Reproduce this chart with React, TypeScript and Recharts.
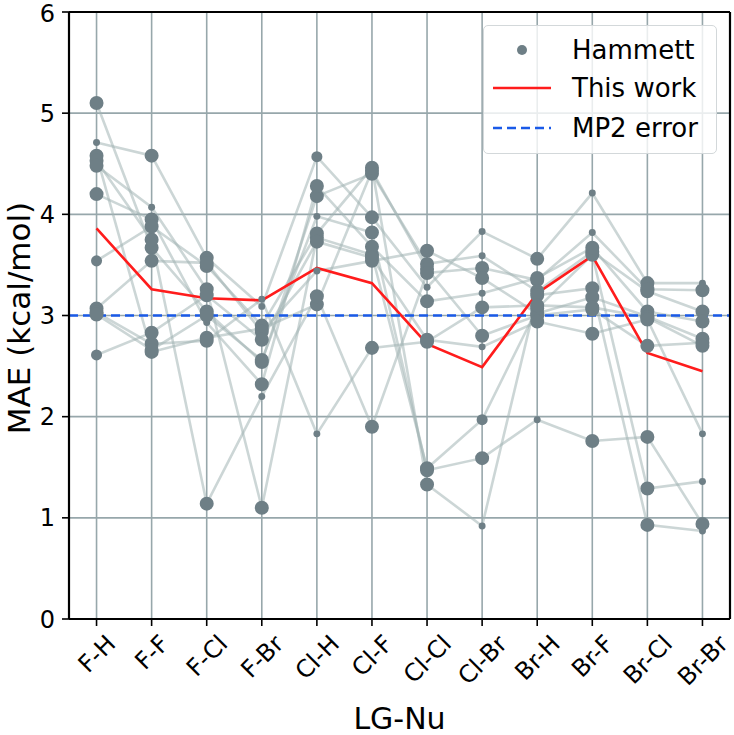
import React from "react";
import {
  ComposedChart,
  XAxis,
  YAxis,
  ZAxis,
  CartesianGrid,
  Line,
  Scatter,
  ReferenceLine,
  Legend,
  Label,
} from "recharts";

const categories = [
  "F-H", "F-F", "F-Cl", "F-Br", "Cl-H", "Cl-F",
  "Cl-Cl", "Cl-Br", "Br-H", "Br-F", "Br-Cl", "Br-Br",
];

// Hammett fits, one list per fit, one value per LG-Nu pair
const hammett0 = [5.1, 3.67, 3.04, 2.54, 4.18, 4.4, 3.51, 3.59, 3.24, 3.63, 3.24, 3.04];
const hammett1 = [4.71, 4.58, 3.57, 3.09, 4.57, 3.97, 3.28, 3.83, 3.56, 4.21, 3.32, 3.32];
const hammett2 = [4.58, 2.64, 2.78, 2.87, 3.11, 4.43, 3.46, 2.8, 3.0, 3.06, 2.7, 2.73];
const hammett3 = [4.53, 3.75, 1.14, 2.2, 3.19, 1.9, 3.42, 3.47, 3.35, 3.82, 3.26, 3.25];
const hammett4 = [4.48, 4.07, 3.26, 1.1, 3.77, 3.6, 1.49, 1.97, 3.07, 3.6, 1.29, 1.36];
const hammett5 = [4.2, 3.95, 2.93, 2.32, 4.28, 3.68, 3.14, 3.22, 3.37, 3.67, 3.04, 2.94];
const hammett6 = [3.54, 3.88, 3.49, 2.9, 3.81, 4.46, 1.33, 0.92, 3.2, 3.27, 0.93, 0.87];
const hammett7 = [3.07, 3.54, 3.52, 2.84, 3.44, 3.54, 3.64, 3.37, 3.02, 3.18, 2.99, 2.77];
const hammett8 = [3.03, 2.72, 2.75, 3.16, 1.83, 2.68, 2.74, 3.08, 3.1, 3.08, 2.98, 2.7];
const hammett9 = [3.01, 2.66, 3.0, 2.56, 3.98, 3.82, 1.47, 1.59, 1.97, 1.76, 1.8, 0.94];
const hammett10 = [2.61, 2.83, 3.2, 2.76, 3.73, 3.57, 2.76, 2.69, 2.94, 2.82, 2.96, 1.83];

// relative weight of each Hammett point (drives marker size)
const weight0 = [3, 3, 3, 3, 3, 3, 3, 1, 3, 3, 3, 3];
const weight1 = [1, 3, 3, 1, 2, 3, 1, 1, 3, 1, 3, 1];
const weight2 = [3, 3, 3, 3, 3, 3, 3, 3, 3, 3, 3, 3];
const weight3 = [3, 3, 3, 1, 3, 3, 3, 3, 3, 1, 3, 3];
const weight4 = [3, 1, 3, 3, 3, 3, 3, 2, 3, 3, 3, 1];
const weight5 = [3, 3, 1, 3, 3, 3, 3, 1, 3, 3, 3, 3];
const weight6 = [2, 3, 3, 3, 3, 3, 3, 1, 3, 3, 3, 1];
const weight7 = [3, 3, 3, 3, 1, 3, 3, 3, 3, 3, 3, 3];
const weight8 = [3, 3, 3, 1, 1, 3, 3, 3, 3, 3, 3, 3];
const weight9 = [3, 3, 3, 3, 1, 3, 3, 3, 1, 3, 3, 3];
const weight10 = [2, 3, 3, 3, 3, 3, 3, 1, 3, 3, 3, 1];

const thisWork = [3.86, 3.26, 3.17, 3.15, 3.47, 3.32, 2.72, 2.49, 3.22, 3.59, 2.63, 2.45];
const mp2Error = 3.0;
const yTicks = [0, 1, 2, 3, 4, 5, 6];

const hammettSeries = [
  hammett0, hammett1, hammett2, hammett3, hammett4, hammett5,
  hammett6, hammett7, hammett8, hammett9, hammett10,
];
const hammettWeights = [
  weight0, weight1, weight2, weight3, weight4, weight5,
  weight6, weight7, weight8, weight9, weight10,
];

const xTicks = categories.map((_, i) => i);
const seriesData = hammettSeries.map((s) => s.map((y, i) => ({ x: i, y })));
const scatterData = hammettSeries.flatMap((s, k) =>
  s.map((y, i) => ({ x: i, y, w: hammettWeights[k][i] }))
);
const thisWorkData = thisWork.map((y, i) => ({ x: i, y }));

const FONT = "'DejaVu Sans', sans-serif";
const POINT = "#6e7f86";
const GRID = "#97a7ab";
const RED = "#ff1c1c";
const BLUE = "#1a5ae8";

let ctx: CanvasRenderingContext2D | null = null;
const textWidth = (s: string, size: number) => {
  if (!ctx) ctx = document.createElement("canvas").getContext("2d");
  if (!ctx) return s.length * size * 0.6;
  ctx.font = `${size}px 'DejaVu Sans'`;
  return ctx.measureText(s).width;
};

const CatTick = (props: any) => {
  const { x, y, payload } = props;
  const label = categories[payload.value];
  const fs = 24;
  const w = textWidth(label, fs);
  const h = fs * 0.73;
  const cy = y + 5 + (w + h) / (2 * Math.SQRT2);
  return (
    <g transform={`translate(${x},${cy})`}>
      <text
        x={0}
        y={0}
        dy="0.36em"
        textAnchor="middle"
        transform="rotate(-45)"
        fontSize={fs}
        fontFamily={FONT}
        fill="#000"
      >
        {label}
      </text>
    </g>
  );
};

const LegendBox = () => (
  <div
    style={{
      width: 234,
      height: 129,
      boxSizing: "border-box",
      border: "1.5px solid #d3d8da",
      borderRadius: 5,
      background: "rgba(255,255,255,0.8)",
      position: "relative",
    }}
  >
    <svg width={234} height={129} style={{ position: "absolute", left: -1.5, top: -1.5 }}>
      <circle cx={39} cy={25} r={5} fill={POINT} />
      <line x1={10} x2={68} y1={63} y2={63} stroke={RED} strokeWidth={2.6} />
      <line x1={10} x2={68} y1={103} y2={103} stroke={BLUE} strokeWidth={2.6} strokeDasharray="9 5" />
      <g fontFamily={FONT} fontSize={26} fill="#000">
        <text x={89} y={25} dy="0.36em">Hammett</text>
        <text x={89} y={63} dy="0.36em">This work</text>
        <text x={89} y={103} dy="0.36em">MP2 error</text>
      </g>
    </svg>
  </div>
);

const App = () => {
  return (
    <div style={{ position: "absolute", left: 0, top: 0 }}>
      <ComposedChart
        width={734}
        height={735}
        margin={{ top: 12, right: 4, left: 9, bottom: 0 }}
      >
        <CartesianGrid stroke={GRID} strokeWidth={1.6} />
        <XAxis
          type="number"
          dataKey="x"
          domain={[-0.5, 11.5]}
          ticks={xTicks}
          interval={0}
          height={116}
          tickSize={7}
          tick={<CatTick />}
          axisLine={{ stroke: "#000", strokeWidth: 2.2 }}
          tickLine={{ stroke: "#000", strokeWidth: 1.6 }}
        >
          <Label
            value="LG-Nu"
            position="insideBottom"
            offset={6}
            style={{ fontSize: 30, fontFamily: FONT, fill: "#000" }}
          />
        </XAxis>
        <YAxis
          type="number"
          domain={[0, 6]}
          ticks={yTicks}
          width={60}
          tickSize={7}
          tickMargin={7}
          tick={{ fontSize: 24, fontFamily: FONT, fill: "#000" }}
          axisLine={{ stroke: "#000", strokeWidth: 2.2 }}
          tickLine={{ stroke: "#000", strokeWidth: 1.6 }}
        >
          <Label
            content={() => (
              <text
                transform="translate(30,318) rotate(-90)"
                textAnchor="middle"
                fontSize={31}
                fontFamily={FONT}
                fill="#000"
              >
                MAE (kcal/mol)
              </text>
            )}
          />
        </YAxis>
        <ZAxis type="number" dataKey="w" domain={[1, 3]} range={[38, 154]} />

        {seriesData.map((d, k) => (
          <Line
            key={k}
            data={d}
            dataKey="y"
            stroke="#a3b5b5"
            strokeOpacity={0.55}
            strokeWidth={2.6}
            dot={false}
            activeDot={false}
            isAnimationActive={false}
            legendType="none"
          />
        ))}
        <Scatter
          name="Hammett"
          data={scatterData}
          dataKey="y"
          fill={POINT}
          isAnimationActive={false}
        />
        <Line
          name="This work"
          data={thisWorkData}
          dataKey="y"
          stroke={RED}
          strokeWidth={2.6}
          dot={false}
          activeDot={false}
          isAnimationActive={false}
        />
        <ReferenceLine y={mp2Error} stroke={BLUE} strokeWidth={2.6} strokeDasharray="9 5" />
        <ReferenceLine y={6} stroke="#000" strokeWidth={2.2} />
        <ReferenceLine x={11.5} stroke="#000" strokeWidth={2.2} />
        <Legend
          layout="vertical"
          align="center"
          verticalAlign="middle"
          content={<LegendBox />}
          wrapperStyle={{ left: 483, top: 25, bottom: "auto", width: 234, height: 129 }}
        />
      </ComposedChart>
    </div>
  );
};

export default App;
